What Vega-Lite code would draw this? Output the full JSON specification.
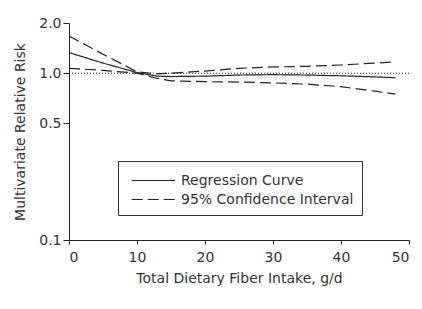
{
  "$schema": "https://vega.github.io/schema/vega-lite/v6.json",
  "autosize": {"type": "none"},
  "width": 340,
  "height": 217,
  "padding": {"left": 69, "top": 23, "right": 13, "bottom": 69},
  "config": {
    "view": {"stroke": null},
    "font": "DejaVu Sans",
    "axis": {"grid": false, "domainColor": "#222", "tickColor": "#222", "labelColor": "#333", "titleColor": "#333", "labelFontSize": 14, "titleFontSize": 14, "titleFontWeight": "normal", "domainWidth": 1, "tickWidth": 1}
  },
  "datasets": {
    "curves": [
      {"x": 0, "y": 1.33, "series": "Regression Curve", "line": "reg"},
      {"x": 5, "y": 1.15, "series": "Regression Curve", "line": "reg"},
      {"x": 10, "y": 1.01, "series": "Regression Curve", "line": "reg"},
      {"x": 13, "y": 0.96, "series": "Regression Curve", "line": "reg"},
      {"x": 15, "y": 0.955, "series": "Regression Curve", "line": "reg"},
      {"x": 20, "y": 0.96, "series": "Regression Curve", "line": "reg"},
      {"x": 25, "y": 0.975, "series": "Regression Curve", "line": "reg"},
      {"x": 30, "y": 0.98, "series": "Regression Curve", "line": "reg"},
      {"x": 35, "y": 0.975, "series": "Regression Curve", "line": "reg"},
      {"x": 40, "y": 0.965, "series": "Regression Curve", "line": "reg"},
      {"x": 45, "y": 0.95, "series": "Regression Curve", "line": "reg"},
      {"x": 48, "y": 0.94, "series": "Regression Curve", "line": "reg"},
      {"x": 0, "y": 1.67, "series": "95% Confidence Interval", "line": "upper"},
      {"x": 5, "y": 1.3, "series": "95% Confidence Interval", "line": "upper"},
      {"x": 10, "y": 1.02, "series": "95% Confidence Interval", "line": "upper"},
      {"x": 13, "y": 0.99, "series": "95% Confidence Interval", "line": "upper"},
      {"x": 15, "y": 1.0, "series": "95% Confidence Interval", "line": "upper"},
      {"x": 20, "y": 1.03, "series": "95% Confidence Interval", "line": "upper"},
      {"x": 25, "y": 1.07, "series": "95% Confidence Interval", "line": "upper"},
      {"x": 30, "y": 1.09, "series": "95% Confidence Interval", "line": "upper"},
      {"x": 35, "y": 1.1, "series": "95% Confidence Interval", "line": "upper"},
      {"x": 40, "y": 1.12, "series": "95% Confidence Interval", "line": "upper"},
      {"x": 45, "y": 1.15, "series": "95% Confidence Interval", "line": "upper"},
      {"x": 48, "y": 1.17, "series": "95% Confidence Interval", "line": "upper"},
      {"x": 0, "y": 1.07, "series": "95% Confidence Interval", "line": "lower"},
      {"x": 5, "y": 1.04, "series": "95% Confidence Interval", "line": "lower"},
      {"x": 10, "y": 1.0, "series": "95% Confidence Interval", "line": "lower"},
      {"x": 13, "y": 0.93, "series": "95% Confidence Interval", "line": "lower"},
      {"x": 15, "y": 0.9, "series": "95% Confidence Interval", "line": "lower"},
      {"x": 20, "y": 0.89, "series": "95% Confidence Interval", "line": "lower"},
      {"x": 25, "y": 0.885, "series": "95% Confidence Interval", "line": "lower"},
      {"x": 30, "y": 0.875, "series": "95% Confidence Interval", "line": "lower"},
      {"x": 35, "y": 0.86, "series": "95% Confidence Interval", "line": "lower"},
      {"x": 40, "y": 0.83, "series": "95% Confidence Interval", "line": "lower"},
      {"x": 45, "y": 0.78, "series": "95% Confidence Interval", "line": "lower"},
      {"x": 48, "y": 0.75, "series": "95% Confidence Interval", "line": "lower"}
    ],
    "ref": [
      {"x": 0, "y": 1.0},
      {"x": 50, "y": 1.0}
    ]
  },
  "layer": [
    {
      "data": {"name": "ref"},
      "mark": {"type": "line", "strokeDash": [1, 2], "color": "#222", "strokeWidth": 1},
      "encoding": {
        "x": {"field": "x", "type": "quantitative"},
        "y": {"field": "y", "type": "quantitative"}
      }
    },
    {
      "data": {"name": "curves"},
      "mark": {"type": "line", "color": "#222", "strokeWidth": 1.2},
      "encoding": {
        "x": {"field": "x", "type": "quantitative", "scale": {"domain": [0, 50], "nice": false}, "axis": {"values": [0, 10, 20, 30, 40, 50], "title": "Total Dietary Fiber Intake, g/d", "tickSize": 4, "labelPadding": 6, "titlePadding": 7}},
        "y": {"field": "y", "type": "quantitative", "scale": {"type": "log", "domain": [0.1, 2.0], "nice": false}, "axis": {"values": [0.1, 0.5, 1.0, 2.0], "format": ".1f", "title": "Multivariate Relative Risk", "tickSize": 6, "labelPadding": 2, "titlePadding": 11}},
        "detail": {"field": "line"},
        "strokeDash": {
          "field": "series", "type": "nominal",
          "scale": {"domain": ["Regression Curve", "95% Confidence Interval"], "range": [[1, 0], [11, 5]]},
          "legend": {"title": null, "orient": "none", "legendX": 49, "legendY": 138, "strokeColor": "#333", "padding": 8, "symbolType": "M-0.55,0H3.57", "symbolSize": 441, "symbolStrokeWidth": 1.2, "symbolStrokeColor": "#222", "labelFontSize": 14, "labelColor": "#333", "labelLimit": 300, "rowPadding": 0, "labelOffset": 32}
        }
      }
    }
  ]
}
